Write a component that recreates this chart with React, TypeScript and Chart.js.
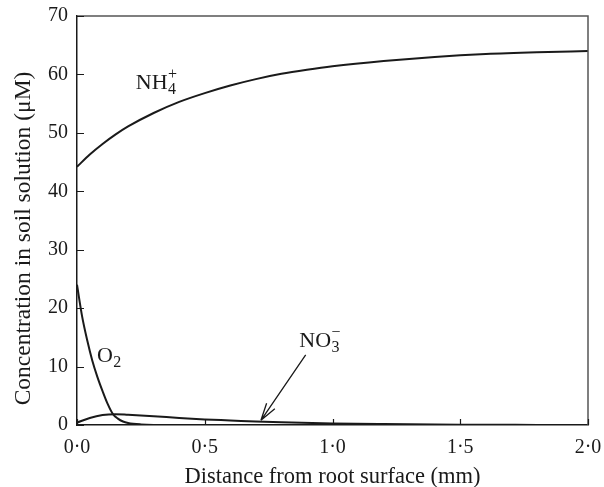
import React, { useEffect, useRef } from "react";
import { Chart, registerables } from "chart.js";

Chart.register(...registerables);

// Distance from root surface (mm)
const nh4X = [0, 0.05, 0.1, 0.15, 0.2, 0.3, 0.4, 0.5, 0.6, 0.7, 0.8, 0.9, 1.0, 1.2, 1.4, 1.6, 1.8, 2.0];
const nh4Y = [44.2, 46.3, 48.1, 49.7, 51.1, 53.4, 55.3, 56.8, 58.1, 59.2, 60.1, 60.8, 61.4, 62.3, 63.0, 63.5, 63.8, 64.0];

const o2X = [0, 0.02, 0.04, 0.06, 0.08, 0.1, 0.12, 0.14, 0.16, 0.18, 0.2, 0.25, 0.3, 0.5, 1.0, 1.5, 2.0];
const o2Y = [24, 18.6, 14.5, 11.0, 8.2, 5.8, 3.6, 1.9, 1.1, 0.6, 0.35, 0.1, 0.02, 0, 0, 0, 0];

const no3X = [0, 0.05, 0.1, 0.15, 0.2, 0.3, 0.4, 0.5, 0.6, 0.7, 0.8, 1.0, 1.2, 1.5, 1.8, 2.0];
const no3Y = [0.4, 1.2, 1.7, 1.85, 1.75, 1.5, 1.2, 0.95, 0.78, 0.6, 0.45, 0.25, 0.15, 0.06, 0.02, 0];

const xTicks = [0, 0.5, 1.0, 1.5, 2.0];
const xTickLabels = ["0·0", "0·5", "1·0", "1·5", "2·0"];
const yTicks = [0, 10, 20, 30, 40, 50, 60, 70];

const FONT = "'Liberation Serif', 'DejaVu Serif', serif";
const INK = "#1a1a1a";

const toPts = (xs: number[], ys: number[]) => xs.map((x, i) => ({ x, y: ys[i] }));

const decorPlugin = {
  id: "decor",
  afterDatasetsDraw(chart: any) {
    const { ctx, chartArea, scales } = chart;
    const xs = scales.x;
    const ys = scales.y;
    const px = (v: number) => xs.getPixelForValue(v);
    const py = (v: number) => ys.getPixelForValue(v);
    ctx.save();
    // frame top & right
    ctx.strokeStyle = "#555";
    ctx.lineWidth = 1.5;
    ctx.beginPath();
    ctx.moveTo(chartArea.left, chartArea.top);
    ctx.lineTo(chartArea.right, chartArea.top);
    ctx.lineTo(chartArea.right, chartArea.bottom);
    ctx.stroke();
    // inward ticks
    ctx.strokeStyle = INK;
    ctx.lineWidth = 1.2;
    ctx.beginPath();
    yTicks.forEach((t) => {
      const y = Math.round(py(t)) + 0.5;
      ctx.moveTo(chartArea.left, y);
      ctx.lineTo(chartArea.left + 7, y);
    });
    xTicks.forEach((t) => {
      const x = Math.round(px(t)) + 0.5;
      ctx.moveTo(x, chartArea.bottom);
      ctx.lineTo(x, chartArea.bottom - 6);
    });
    ctx.stroke();

    // curve labels
    ctx.fillStyle = INK;
    ctx.textBaseline = "alphabetic";
    ctx.textAlign = "left";
    const big = `22px ${FONT}`;
    const small = `16px ${FONT}`;
    const label = (x: number, y: number, main: string, sub: string, sup: string) => {
      const lx = px(x);
      const ly = py(y);
      ctx.font = big;
      ctx.fillText(main, lx, ly);
      const w = ctx.measureText(main).width;
      ctx.font = small;
      ctx.fillText(sub, lx + w + 0.5, ly + 5);
      if (sup) ctx.fillText(sup, lx + w + 0.5, ly - 10);
    };
    label(0.23, 57.5, "NH", "4", "+");
    label(0.078, 10.8, "O", "2", "");
    label(0.87, 13.3, "NO", "3", "−");

    // arrow pointing to NO3 curve
    const ax0 = px(0.895), ay0 = py(12.0);
    const ax1 = px(0.72), ay1 = py(0.8);
    ctx.strokeStyle = INK;
    ctx.lineWidth = 1.3;
    ctx.beginPath();
    ctx.moveTo(ax0, ay0);
    ctx.lineTo(ax1, ay1);
    const ang = Math.atan2(ay1 - ay0, ax1 - ax0);
    const hl = 18, ha = 0.28;
    ctx.moveTo(ax1, ay1);
    ctx.lineTo(ax1 - hl * Math.cos(ang - ha), ay1 - hl * Math.sin(ang - ha));
    ctx.moveTo(ax1, ay1);
    ctx.lineTo(ax1 - hl * Math.cos(ang + ha), ay1 - hl * Math.sin(ang + ha));
    ctx.stroke();

    // axis titles
    ctx.font = `22.5px ${FONT}`;
    ctx.textAlign = "center";
    ctx.textBaseline = "alphabetic";
    ctx.fillText("Distance from root surface (mm)", (chartArea.left + chartArea.right) / 2, 483);
    ctx.save();
    ctx.translate(30, (chartArea.top + chartArea.bottom) / 2 + 18);
    ctx.rotate(-Math.PI / 2);
    ctx.font = `23.5px ${FONT}`;
    ctx.fillText("Concentration in soil solution (μM)", 0, 0);
    ctx.restore();

    ctx.restore();
  },
};

export default function App() {
  const ref = useRef<HTMLCanvasElement | null>(null);
  useEffect(() => {
    document.body.style.margin = "0";
    const canvas = ref.current;
    if (!canvas) return;
    const lineDs = (label: string, xs: number[], ys: number[]) => ({
      label,
      data: toPts(xs, ys),
      borderColor: INK,
      borderWidth: 2,
      pointRadius: 0,
      fill: false,
      cubicInterpolationMode: "monotone" as const,
    });
    const chart = new Chart(canvas, {
      type: "line",
      data: {
        datasets: [
          lineDs("NH4+", nh4X, nh4Y),
          lineDs("O2", o2X, o2Y),
          lineDs("NO3-", no3X, no3Y),
        ],
      },
      options: {
        animation: false,
        responsive: false,
        maintainAspectRatio: false,
        layout: { padding: { top: 16, right: 16, left: 0, bottom: 0 } },
        plugins: { legend: { display: false }, tooltip: { enabled: false } },
        scales: {
          x: {
            type: "linear",
            min: 0,
            max: 2,
            afterBuildTicks: (s: any) => {
              s.ticks = xTicks.map((v) => ({ value: v }));
            },
            afterFit: (s: any) => {
              s.height = 62;
              s.paddingLeft = 0;
              s.paddingRight = 0;
            },
            ticks: {
              color: INK,
              font: { family: FONT, size: 20 },
              padding: 11,
              maxRotation: 0,
              autoSkip: false,
              callback: (v: any) => {
                const i = xTicks.indexOf(Number(v));
                return i >= 0 ? xTickLabels[i] : "";
              },
            },
            grid: { display: false, drawTicks: false },
            border: { display: true, color: INK, width: 1.5 },
          },
          y: {
            type: "linear",
            min: 0,
            max: 70,
            afterBuildTicks: (s: any) => {
              s.ticks = yTicks.map((v) => ({ value: v }));
            },
            afterFit: (s: any) => {
              s.width = 77;
              s.paddingTop = 0;
              s.paddingBottom = 0;
            },
            ticks: {
              color: INK,
              font: { family: FONT, size: 20 },
              padding: 9,
              autoSkip: false,
            },
            grid: { display: false, drawTicks: false },
            border: { display: true, color: INK, width: 1.5 },
          },
        },
      },
      plugins: [decorPlugin],
    });
    return () => chart.destroy();
  }, []);
  return (
    <div style={{ width: 604, height: 487 }}>
      <canvas ref={ref} width={604} height={487} style={{ display: "block" }} />
    </div>
  );
}
